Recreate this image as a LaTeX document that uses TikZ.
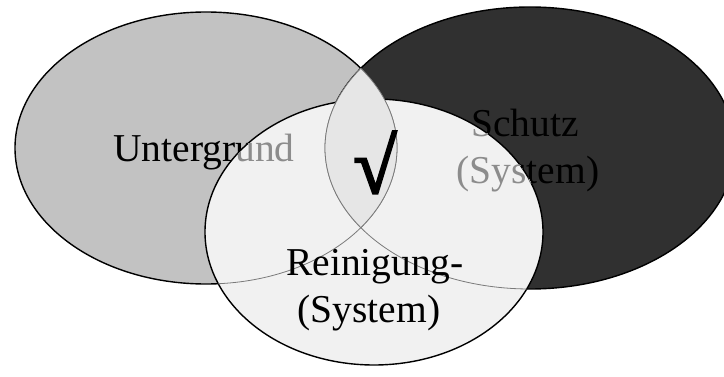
\documentclass[tikz,border=0pt]{standalone}
\usepackage{fontspec}
\setmainfont{Liberation Serif}
\definecolor{leftgray}{HTML}{C2C2C2}
\definecolor{rightdark}{HTML}{303030}
\definecolor{bottomlight}{HTML}{F1F1F1}
\definecolor{lensgray}{HTML}{E6E6E6}
\definecolor{hidtext}{HTML}{8C8C8C}
\definecolor{thinline}{HTML}{7A7A7A}
\tikzset{
  lbl/.style={inner sep=0pt, font=\fontsize{39.5}{41}\selectfont, align=center},
  outline/.style={draw=black, line width=1.4pt},
  inner/.style={draw=thinline, line width=0.8pt},
}
\begin{document}
\begin{tikzpicture}[x=1pt,y=-1pt]
\useasboundingbox (0,0) rectangle (724,377);
\fill[white] (0,0) rectangle (724,377);
% left and right ellipses
\filldraw[fill=leftgray, outline] (206,148) ellipse [x radius=191, y radius=136];
\filldraw[fill=rightdark, outline] (530,148) ellipse [x radius=205, y radius=141];
% texts in the upper ellipses
\node[lbl, anchor=base] (unt) at (204,162) {Untergrund};
\node[lbl, anchor=base] (sch) at (525,137) {Schutz};
\node[lbl, anchor=base] (sys1) at (528,184) {(System)};
% bottom ellipse
\filldraw[fill=bottomlight, outline] (374,232) ellipse [x radius=169, y radius=133];
\begin{scope}
  \clip (374,232) ellipse [x radius=169, y radius=133];
  \node[lbl, anchor=base, text=hidtext] at (204,162) {Untergrund};
  \node[lbl, anchor=base, text=hidtext] at (525,137) {Schutz};
  \node[lbl, anchor=base, text=hidtext] at (528,184) {(System)};
  \draw[inner] (206,148) ellipse [x radius=191, y radius=136];
  \draw[inner] (530,148) ellipse [x radius=205, y radius=141];
\end{scope}
% lens between left and right
\begin{scope}
  \clip (206,148) ellipse [x radius=191, y radius=136];
  \fill[lensgray] (530,148) ellipse [x radius=205, y radius=141];
  \draw[inner] (530,148) ellipse [x radius=205, y radius=141];
\end{scope}
\begin{scope}
  \clip (530,148) ellipse [x radius=205, y radius=141];
  \draw[inner] (206,148) ellipse [x radius=191, y radius=136];
\end{scope}
% bottom texts and check mark
\node[lbl, anchor=base] (rein) at (375,276) {Reinigung-};
\node[lbl, anchor=base] (sys2) at (369,323) {(System)};
\node[inner sep=0pt, font=\fontsize{78}{80}\selectfont\addfontfeature{FakeBold=3}, anchor=base] (chk) at (375,193) {√};
\end{tikzpicture}
\end{document}
